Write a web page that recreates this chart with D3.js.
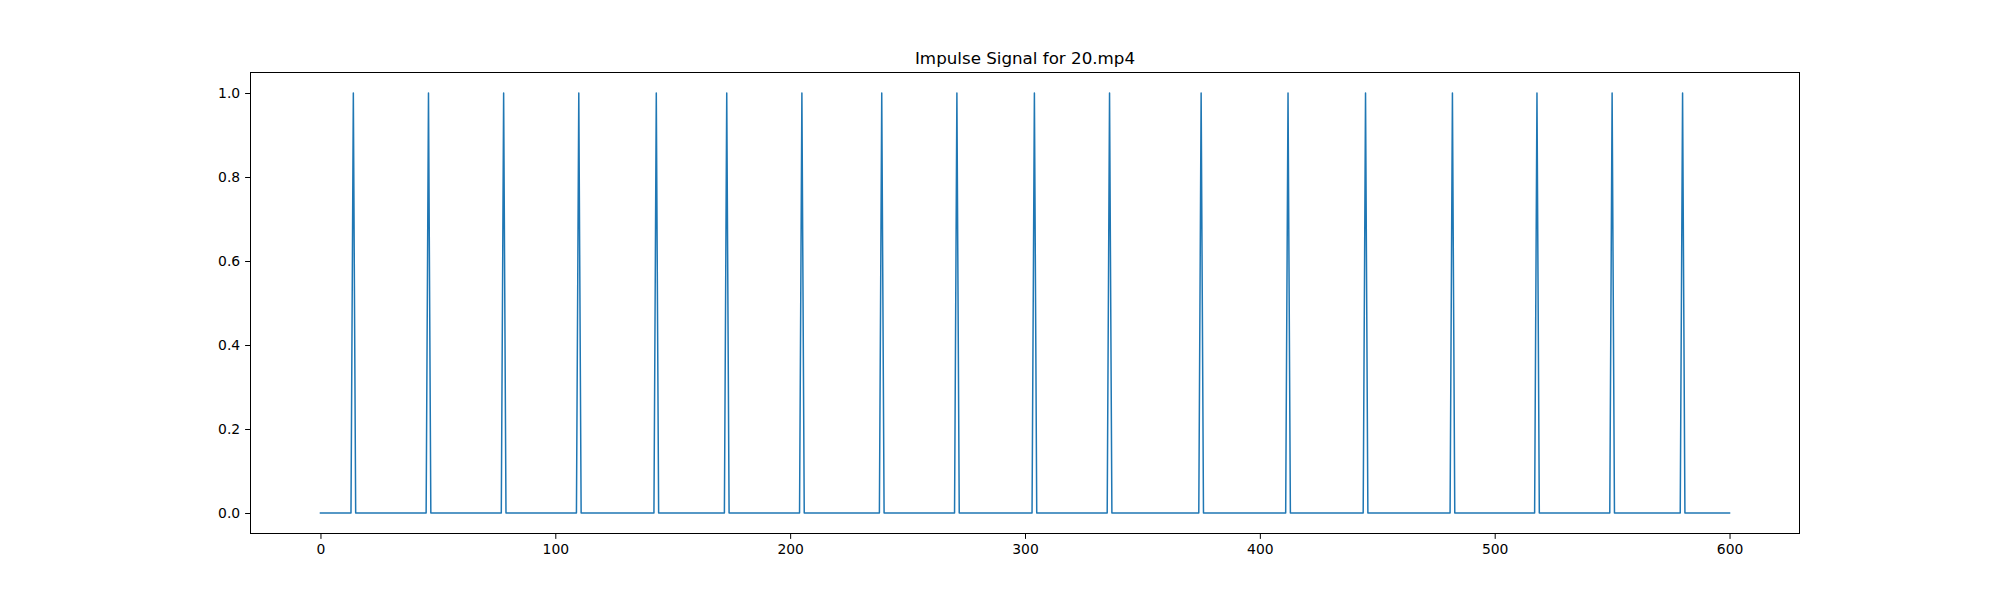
<!DOCTYPE html>
<html>
<head>
<meta charset="utf-8">
<script src="https://cdn.jsdelivr.net/npm/d3@7"></script>
<style>
  body { margin: 0; background: #fff; }
  svg text { font-family: "DejaVu Sans", sans-serif; fill: #000; }
</style>
</head>
<body>
<script>
// signal data: frame count and the frames where the impulse is 1
var frameCount = 601;
var spikeFrames = [14, 46, 78, 110, 143, 173, 205, 239, 271, 304, 336, 375, 412, 445, 482, 518, 550, 580];
var xTicks = [0, 100, 200, 300, 400, 500, 600];
var yTicks = [0.0, 0.2, 0.4, 0.6, 0.8, 1.0];
var title = "Impulse Signal for 20.mp4";

var signal = [];
for (i = 0; i < frameCount; i++) {
  signal.push({ x: i, y: spikeFrames.indexOf(i) >= 0 ? 1 : 0 });
}

var width = 2000, height = 600;
// plot box (window.top is reserved, so use other names)
var plotLeft = 250, plotRight = 1800, plotTop = 72, plotBottom = 534;

var svg = d3.select("body").append("svg")
  .attr("width", width)
  .attr("height", height);

var x = d3.scaleLinear().domain([-30, 630]).range([plotLeft, plotRight]);
var y = d3.scaleLinear().domain([-0.05, 1.05]).range([plotBottom, plotTop]);

// line
var line = d3.line()
  .x(function (d) { return x(d.x); })
  .y(function (d) { return y(d.y); });

svg.append("path")
  .datum(signal)
  .attr("d", line)
  .attr("fill", "none")
  .attr("stroke", "#1f77b4")
  .attr("stroke-width", 1.5)
  .attr("stroke-linejoin", "round")
  .attr("stroke-linecap", "square");

// axes
var xAxis = d3.axisBottom(x).tickValues(xTicks).tickSize(4.9).tickPadding(4.9)
  .tickFormat(d3.format("d"));
var yAxis = d3.axisLeft(y).tickValues(yTicks).tickSize(4.9).tickPadding(4.9)
  .tickFormat(d3.format(".1f"));

var gx = svg.append("g").attr("transform", "translate(0," + plotBottom + ")").call(xAxis);
var gy = svg.append("g").attr("transform", "translate(" + plotLeft + ",0)").call(yAxis);

[gx, gy].forEach(function (g) {
  g.select(".domain").remove();
  g.selectAll(".tick line").attr("stroke", "#000").attr("stroke-width", 1);
  g.selectAll(".tick text").attr("font-size", "13.9px").attr("fill", "#000");
});

// frame
svg.append("rect")
  .attr("x", plotLeft + 0.5).attr("y", plotTop + 0.5)
  .attr("width", plotRight - plotLeft - 1).attr("height", plotBottom - plotTop - 1)
  .attr("fill", "none")
  .attr("stroke", "#000")
  .attr("stroke-width", 1);

svg.append("text")
  .attr("x", (plotLeft + plotRight) / 2)
  .attr("y", plotTop - 8)
  .attr("text-anchor", "middle")
  .attr("font-size", "16.7px")
  .text(title);
</script>
</body>
</html>
